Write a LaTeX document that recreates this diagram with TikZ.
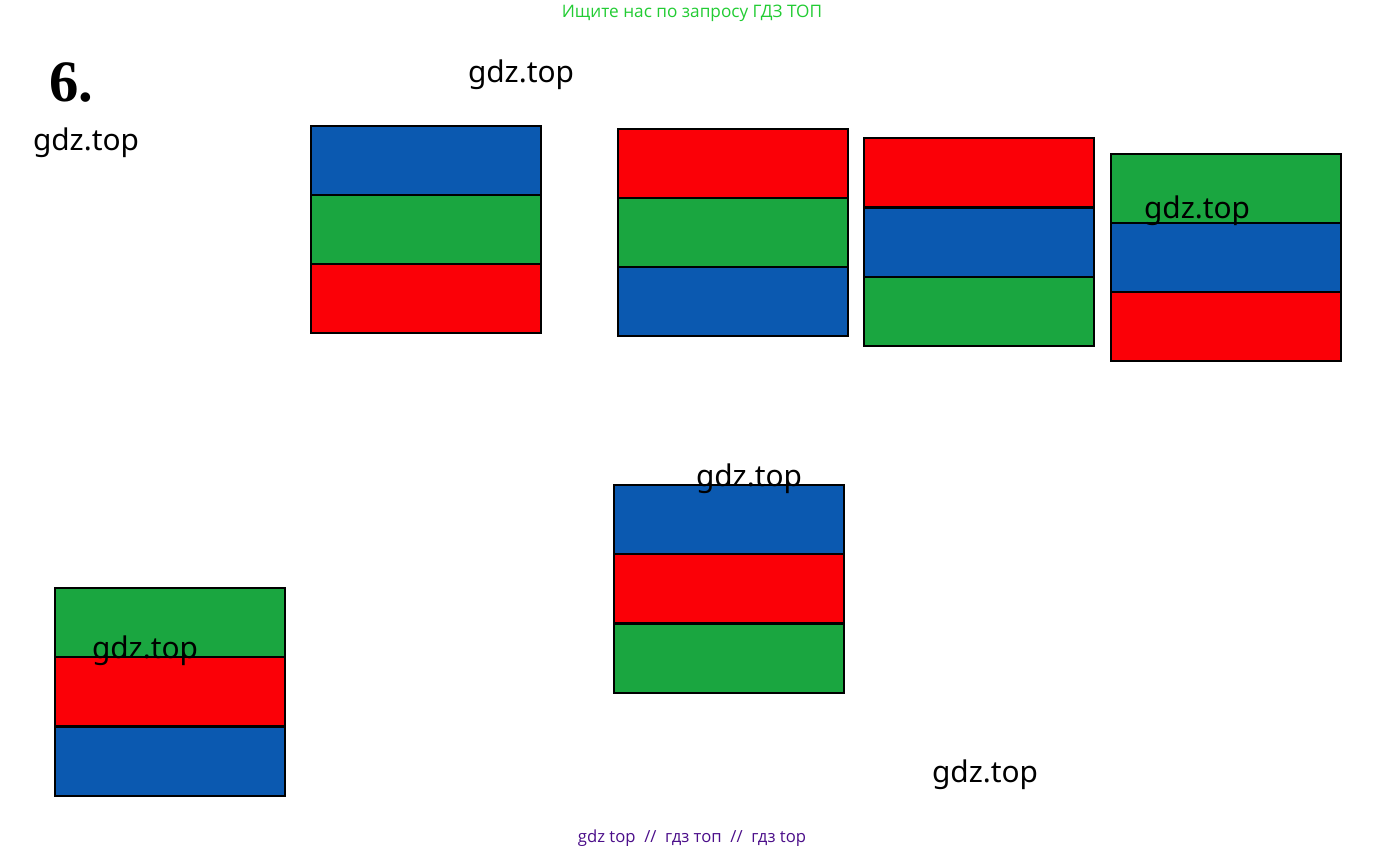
\documentclass[tikz,border=0pt]{standalone}
\usepackage{fontspec}
\setmainfont{Liberation Serif}
\newfontfamily\wm{Noto Sans}
\newfontfamily\hd{Open Sans}
\definecolor{fb}{HTML}{0B59B0}
\definecolor{fg}{HTML}{1AA640}
\definecolor{fr}{HTML}{FB0007}
\definecolor{hdgreen}{HTML}{22CC33}
\definecolor{ftpurple}{HTML}{4B0E8A}
\tikzset{
  stripe/.style={draw=black, line width=1.5pt, minimum width=172.5pt, minimum height=51.75pt, inner sep=0pt, outer sep=0pt, anchor=north west},
  wmark/.style={font=\wm\fontsize{22.4}{26}\selectfont, inner sep=0pt, text=black},
}
\begin{document}
\begin{tikzpicture}[x=0.75pt,y=-0.75pt]
\path[use as bounding box, fill=white] (0,0) rectangle (1387,851);
% header / footer
\node[font=\hd\fontsize{12.9}{15}\selectfont, text=hdgreen, inner sep=0pt] (hdr) at (692,13) {Ищите нас по запросу ГДЗ ТОП};
\node[font=\hd\fontsize{12.5}{14}\selectfont, text=ftpurple, inner sep=0pt] (ftr) at (692,838) {gdz top \ // \ гдз топ \ // \ гдз top};
\node[font=\bfseries\fontsize{44}{48}\selectfont, inner sep=0pt, anchor=west] (num) at (49,82) {6.};
% box 1
\node[stripe, fill=fb] (b1a) at (311,126) {};
\node[stripe, fill=fg] (b1b) at (311,195) {};
\node[stripe, fill=fr] (b1c) at (311,264) {};
% box 2
\node[stripe, fill=fr] (b2a) at (618,129) {};
\node[stripe, fill=fg] (b2b) at (618,198) {};
\node[stripe, fill=fb] (b2c) at (618,267) {};
% box 3
\node[stripe, fill=fr] (b3a) at (864,138) {};
\node[stripe, fill=fb] (b3b) at (864,208) {};
\node[stripe, fill=fg] (b3c) at (864,277) {};
% box 4
\node[stripe, fill=fg] (b4a) at (1111,154) {};
\node[stripe, fill=fb] (b4b) at (1111,223) {};
\node[stripe, fill=fr] (b4c) at (1111,292) {};
% box 5
\node[stripe, fill=fb] (b5a) at (614,485) {};
\node[stripe, fill=fr] (b5b) at (614,554) {};
\node[stripe, fill=fg] (b5c) at (614,624) {};
% box 6
\node[stripe, fill=fg] (b6a) at (55,588) {};
\node[stripe, fill=fr] (b6b) at (55,657) {};
\node[stripe, fill=fb] (b6c) at (55,727) {};
% watermarks
\node[wmark] (w1) at (521,74.5) {gdz.top};
\node[wmark] (w2) at (86,142.5) {gdz.top};
\node[wmark] (w3) at (1197,210.5) {gdz.top};
\node[wmark] (w4) at (749,478.5) {gdz.top};
\node[wmark] (w5) at (145,650.5) {gdz.top};
\node[wmark] (w6) at (985,774.5) {gdz.top};
\end{tikzpicture}
\end{document}
